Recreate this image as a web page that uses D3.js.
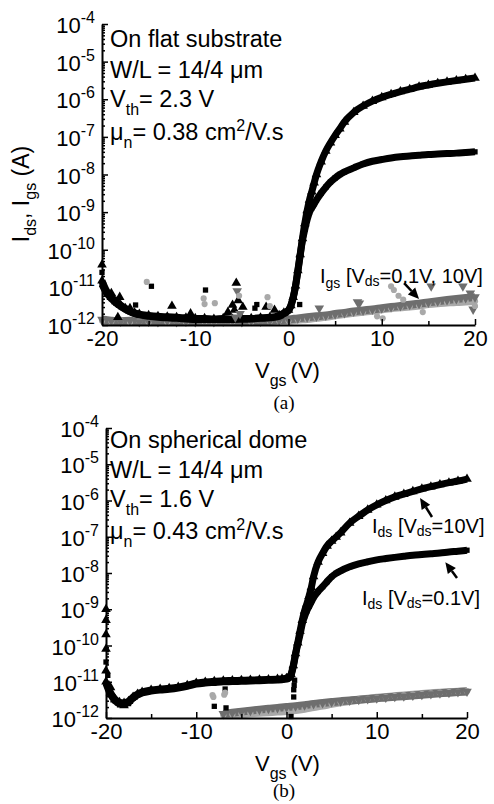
<!DOCTYPE html>
<html><head><meta charset="utf-8">
<script src="https://cdn.jsdelivr.net/npm/d3@7"></script>
<style>
body{margin:0;background:#fff}
svg{display:block}
text{white-space:pre}
</style>
</head><body>
<svg id="c" width="494" height="804"></svg>
<script>
// ---------------- DATA ----------------
const xTicks = [-20, -10, 0, 10, 20];
const xMinor = [-15, -5, 5, 15];
const yTickExps = [-12, -11, -10, -9, -8, -7, -6, -5, -4];

// gate voltage grid for drain-current sweeps (V)
const vgrid = [-20,-19.5,-19,-18.5,-18,-17.5,-17,-16.5,-16,
  -15,-14,-13,-12,-11,-10,-9,-8,-7,-6,-5,-4,-3,-2,-1,
  -0.5,0,0.25,0.5,0.75,1,1.25,1.5,1.75,2,2.25,2.5,2.75,3,
  3.5,4,4.5,5,5.5,6,7,8,9,10,11,12,13,14,15,16,17,18,19,20];

// (a) flat substrate, Ids at Vds = 10 V (A)
const a_ids10 = [1.5e-11,8e-12,5.5e-12,4.2e-12,3.4e-12,2.8e-12,2.4e-12,2.1e-12,1.95e-12,
  1.8e-12,1.7e-12,1.65e-12,1.6e-12,1.55e-12,1.5e-12,1.5e-12,1.45e-12,1.5e-12,1.45e-12,1.5e-12,1.5e-12,1.55e-12,1.6e-12,1.8e-12,
  2.1e-12,2.5e-12,3.3e-12,5.5e-12,1.1e-11,2.8e-11,7.5e-11,2e-10,5e-10,1.1e-9,2.1e-9,3.5e-9,6e-9,1e-8,
  2.2e-8,4.2e-8,7e-8,1.1e-7,1.65e-7,2.5e-7,4.5e-7,6.6e-7,8.9e-7,1.12e-6,1.35e-6,1.6e-6,1.85e-6,2.15e-6,2.4e-6,2.65e-6,2.9e-6,3.15e-6,3.4e-6,3.65e-6];
// (a) flat substrate, Ids at Vds = 0.1 V (A)
const a_ids01 = [1.2e-11,7e-12,5e-12,3.8e-12,3.1e-12,2.6e-12,2.25e-12,2e-12,1.85e-12,
  1.7e-12,1.6e-12,1.55e-12,1.5e-12,1.45e-12,1.4e-12,1.4e-12,1.4e-12,1.4e-12,1.4e-12,1.42e-12,1.45e-12,1.5e-12,1.55e-12,1.7e-12,
  2e-12,2.4e-12,3.2e-12,5.2e-12,1.05e-11,2.6e-11,7e-11,1.8e-10,3.5e-10,6.3e-10,1e-9,1.3e-9,1.65e-9,2.1e-9,
  3.2e-9,4.6e-9,6.3e-9,8.1e-9,1e-8,1.17e-8,1.5e-8,1.9e-8,2.25e-8,2.5e-8,2.75e-8,2.95e-8,3.1e-8,3.25e-8,3.4e-8,3.5e-8,3.6e-8,3.7e-8,3.85e-8,4e-8];

// gate-current grid (a)
const a_igsV = [-20,-19,-18,-17,-16,-15,-14,-13,-12,-11,-10,-9,-8,-7,-6,-5,-4,-3,-2,-1,
  0,1,2,3,4,5,6,7,8,9,10,11,12,13,14,15,16,17,18,19,20];
const a_igs10 = [1.4e-12,1.3e-12,1.25e-12,1.3e-12,1.2e-12,1.25e-12,1.2e-12,1.3e-12,1.2e-12,1.25e-12,1.2e-12,1.3e-12,1.2e-12,1.25e-12,1.3e-12,1.2e-12,1.3e-12,1.25e-12,1.3e-12,1.35e-12,
  1.4e-12,1.5e-12,1.6e-12,1.7e-12,1.8e-12,1.95e-12,2.1e-12,2.3e-12,2.45e-12,2.6e-12,2.8e-12,3e-12,3.2e-12,3.45e-12,3.7e-12,4e-12,4.3e-12,4.6e-12,4.9e-12,5.2e-12,5.5e-12];
const a_igs01 = [1.3e-12,1.25e-12,1.3e-12,1.2e-12,1.25e-12,1.2e-12,1.3e-12,1.2e-12,1.25e-12,1.2e-12,1.3e-12,1.25e-12,1.2e-12,1.3e-12,1.25e-12,1.3e-12,1.2e-12,1.3e-12,1.25e-12,1.3e-12,
  1.3e-12,1.4e-12,1.45e-12,1.55e-12,1.65e-12,1.8e-12,1.95e-12,2.1e-12,2.25e-12,2.4e-12,2.6e-12,2.8e-12,2.95e-12,3.1e-12,3.3e-12,3.6e-12,3.8e-12,3.95e-12,4.1e-12,4.2e-12,4.3e-12];

// scattered points (a): [Vgs, I, marker]  t=Ids 10V, s=Ids 0.1V, c=Igs 0.1V, d=Igs 10V
const a_scatter = [[-20,4e-11,"t"],[-20,2.5e-11,"s"],[-19,7e-12,"t"],[-18.1,5.5e-12,"t"],[-18.3,1.6e-12,"t"],
  [-17,2.8e-12,"t"],[-16.4,3.4e-12,"s"],[-15.2,1.4e-11,"c"],[-14.7,1.07e-11,"s"],[-12.5,3.2e-12,"t"],
  [-10.5,2e-12,"t"],[-8.9,8.5e-12,"s"],[-9.1,5.1e-12,"c"],[-9.0,3.6e-12,"c"],[-7.9,3.8e-12,"c"],
  [-6.5,2.2e-12,"t"],[-6.0,3.4e-12,"t"],[-5.8,2.5e-12,"t"],[-5.7,1.6e-12,"d"],[-5.6,1.3e-11,"t"],
  [-5.5,8e-12,"d"],[-5.4,4.5e-12,"t"],[-5.3,6e-12,"c"],[-5.2,2e-12,"d"],[-4.9,3e-12,"t"],
  [-3.6,2.8e-12,"s"],[-3.4,3.5e-12,"s"],[-2.4,3e-12,"t"],[-2.25,5.5e-12,"c"],[-2.0,3.2e-12,"c"],
  [-1.5,2.5e-12,"t"],[1.2,3.5e-12,"s"],[3.3,2.8e-12,"d"],[7.4,4.1e-12,"d"],[7.6,3.8e-12,"d"],
  [9.5,1.7e-12,"c"],[10.1,1.5e-12,"c"],[11.0,1.07e-11,"c"],[11.3,8.5e-12,"c"],[11.8,6e-12,"c"],
  [12.3,4.7e-12,"c"],[14.4,2.2e-12,"c"],[15.3,1.07e-11,"d"],[18.7,1.07e-11,"d"],[19.5,7e-12,"d"],
  [19.8,2.6e-12,"d"],[20,3.2e-12,"c"]];

// (b) spherical dome, Ids at Vds = 10 V (A)
const b_ids10 = [1e-11,5e-12,3.3e-12,2.7e-12,2.6e-12,2.9e-12,3.8e-12,4.6e-12,5.2e-12,
  5.9e-12,6.3e-12,6.6e-12,7.1e-12,8e-12,9.2e-12,9.8e-12,1.03e-11,1.07e-11,1.08e-11,1.1e-11,1.12e-11,1.13e-11,1.15e-11,1.18e-11,
  1.2e-11,1.25e-11,1.35e-11,1.6e-11,2.8e-11,6e-11,1.2e-10,2.5e-10,5e-10,9e-10,1.4e-9,2.3e-9,4e-9,8e-9,
  2e-8,3.5e-8,5.6e-8,7.6e-8,9.8e-8,1.3e-7,2.4e-7,3.7e-7,5.5e-7,7.6e-7,1e-6,1.26e-6,1.5e-6,1.78e-6,2.1e-6,2.4e-6,2.75e-6,3.1e-6,3.45e-6,3.9e-6];
// (b) spherical dome, Ids at Vds = 0.1 V (A)
const b_ids01 = [9e-12,4.5e-12,3e-12,2.5e-12,2.4e-12,2.7e-12,3.5e-12,4.3e-12,4.9e-12,
  5.5e-12,5.9e-12,6.2e-12,6.7e-12,7.5e-12,8.6e-12,9.2e-12,9.6e-12,1e-11,1.01e-11,1.03e-11,1.05e-11,1.07e-11,1.1e-11,1.12e-11,
  1.14e-11,1.18e-11,1.25e-11,1.5e-11,2.6e-11,5.5e-11,1.1e-10,2e-10,4e-10,6.3e-10,9.1e-10,1.2e-9,1.6e-9,2.1e-9,
  3.1e-9,4.2e-9,5.8e-9,7.9e-9,9.8e-9,1.15e-8,1.48e-8,1.78e-8,2.04e-8,2.3e-8,2.5e-8,2.7e-8,2.9e-8,3.1e-8,3.25e-8,3.4e-8,3.55e-8,3.8e-8,4e-8,4.25e-8];

// gate-current grid (b)
const b_igsV = [-7,-6,-5,-4,-3,-2,-1,0,1,2,3,4,5,6,7,8,9,10,11,12,13,14,15,16,17,18,19,20];
const b_igs10 = [1.3e-12,1.4e-12,1.5e-12,1.6e-12,1.7e-12,1.8e-12,1.9e-12,2e-12,2.1e-12,2.25e-12,2.45e-12,2.6e-12,2.75e-12,2.9e-12,
  3.05e-12,3.2e-12,3.35e-12,3.5e-12,3.7e-12,3.85e-12,4e-12,4.2e-12,4.4e-12,4.6e-12,4.8e-12,5e-12,5.2e-12,5.4e-12];
const b_igs01 = [1.2e-12,1.25e-12,1.3e-12,1.35e-12,1.4e-12,1.45e-12,1.5e-12,1.55e-12,1.65e-12,1.8e-12,2e-12,2.2e-12,2.45e-12,2.7e-12,
  2.95e-12,3.2e-12,3.4e-12,3.6e-12,3.8e-12,4e-12,4.2e-12,4.4e-12,4.6e-12,4.8e-12,5e-12,5.2e-12,5.3e-12,5.5e-12];

const b_scatter = [[-20,1e-9,"t"],[-20,5e-10,"t"],[-20,2e-10,"t"],[-20,8e-11,"t"],[-20,3.5e-11,"s"],[-20,2e-11,"t"],
  [-19.8,1.5e-11,"s"],[-19.5,7e-12,"t"],[-19,3.2e-12,"t"],[-18.5,2.3e-12,"s"],[-18,2.2e-12,"t"],[-17.5,2.5e-12,"s"],
  [-8.2,4.3e-12,"c"],[-8.1,3.8e-12,"c"],[-8.0,2.1e-12,"s"],[-6.8,5e-12,"c"],[-6.9,4.4e-12,"c"],[-6.8,6.3e-12,"s"],
  [-6.7,1.9e-12,"s"],[0.9,1.1e-11,"s"],[0.85,8e-12,"s"],[0.8,6e-12,"s"],[0.8,3.8e-12,"s"],[0.5,1.1e-12,"s"]];

// ---------------- DRAWING ----------------
const FONT = '"Liberation Sans", Arial, Helvetica, sans-serif';
const SERIF = '"Liberation Serif", "Times New Roman", serif';
const svg = d3.select("#c");
const DARK = "#6e6e6e", LIGHT = "#a9a9a9";

function rich(g, x, y, parts, fs, opts) {
  opts = opts || {};
  const t = g.append("text").attr("x", x).attr("y", y)
    .attr("font-size", fs).attr("font-family", opts.family || FONT).attr("fill", "#000");
  if (opts.anchor) t.attr("text-anchor", opts.anchor);
  if (opts.transform) t.attr("transform", opts.transform);
  let shift = 0;
  parts.forEach(p => {
    let target = 0, size = fs;
    if (p.sub !== undefined) { target = p.sub; size = p.size || Math.round(fs * 0.68); }
    if (p.sup !== undefined) { target = -p.sup; size = p.size || Math.round(fs * 0.68); }
    const ts = t.append("tspan").text(p.t).attr("font-size", size);
    const dy = target - shift;
    if (dy) ts.attr("dy", dy);
    if (p.dx) ts.attr("dx", p.dx);
    shift = target;
  });
  return t;
}

function zip(v, i) { return v.map((d, k) => [d, i[k]]); }

const sym = {
  t: d3.symbol(d3.symbolTriangle, 40)(),
  s: d3.symbol(d3.symbolSquare, 28)(),
  c: d3.symbol(d3.symbolCircle, 30)(),
  d: d3.symbol(d3.symbolTriangle, 40)()
};
const symColor = { t: "#000", s: "#000", c: LIGHT, d: DARK };

function markers(g, x, y, pts, kind) {
  g.append("g").selectAll("path").data(pts).join("path")
    .attr("d", sym[kind])
    .attr("fill", symColor[kind])
    .attr("transform", d => `translate(${x(d[0])},${y(d[1])})` + (kind === "d" ? " rotate(180)" : ""));
}

function panel(cfg) {
  const x = d3.scaleLinear().domain([-20, 20]).range(cfg.xr);
  const y = d3.scaleLog().domain([1e-12, 1e-4]).range(cfg.yr);
  const g = svg.append("g");
  const line = d3.line().x(d => x(d[0])).y(d => y(d[1])).curve(d3.curveMonotoneX);

  // gate current bands
  const ig01 = zip(cfg.igsV, cfg.igs01), ig10 = zip(cfg.igsV, cfg.igs10);
  g.append("path").datum(ig01).attr("d", line).attr("fill", "none").attr("stroke", LIGHT).attr("stroke-width", 8);
  g.append("path").datum(ig10).attr("d", line).attr("fill", "none").attr("stroke", DARK).attr("stroke-width", 8);
  markers(g, x, y, ig01, "c");
  markers(g, x, y, ig10, "d");

  // drain current curves
  const d01 = zip(vgrid, cfg.ids01), d10 = zip(vgrid, cfg.ids10);
  g.append("path").datum(d01).attr("d", line).attr("fill", "none").attr("stroke", "#000").attr("stroke-width", 7).attr("stroke-linejoin", "round");
  g.append("path").datum(d10).attr("d", line).attr("fill", "none").attr("stroke", "#000").attr("stroke-width", 7).attr("stroke-linejoin", "round");
  markers(g, x, y, d01, "s");
  markers(g, x, y, d10, "t");

  // scattered points
  ["t", "s", "d", "c"].forEach(k => markers(g, x, y, cfg.scatter.filter(p => p[2] === k), k));

  // axes
  const y0 = cfg.yr[0], x0 = cfg.xr[0];
  const xa = g.append("g").attr("transform", `translate(0,${y0})`)
    .call(d3.axisBottom(x).tickValues(xTicks).tickSize(-6).tickSizeOuter(0).tickPadding(5).tickFormat(d => String(d)));
  g.append("g").attr("transform", `translate(0,${y0})`)
    .call(d3.axisBottom(x).tickValues(xMinor).tickSize(-4).tickSizeOuter(0).tickFormat(""))
    .select(".domain").remove();
  xa.selectAll("text").attr("font-size", 22).attr("font-family", FONT).attr("fill", "#000");

  const minors = [];
  for (let e = -12; e < -4; e++) for (let k = 2; k <= 9; k++) minors.push(k * Math.pow(10, e));
  g.append("g").attr("transform", `translate(${x0},0)`)
    .call(d3.axisLeft(y).tickValues(yTickExps.map(e => Math.pow(10, e))).tickSize(-6).tickSizeOuter(0).tickFormat(""));
  g.append("g").attr("transform", `translate(${x0},0)`)
    .call(d3.axisLeft(y).tickValues(minors).tickSize(-3).tickSizeOuter(0).tickFormat(""))
    .select(".domain").remove();
  g.selectAll(".domain").attr("stroke-width", 2).attr("stroke", "#000");
  g.selectAll(".tick line").attr("stroke-width", 1.5).attr("stroke", "#000");

  yTickExps.forEach(e => {
    rich(g, x0 - 7, y(Math.pow(10, e)) + 9,
      [{ t: "10" }, { t: String(e), sup: 10, size: 16 }], 22, { anchor: "end" });
  });

  // axis title
  rich(g, 255, y0 + 53, [{ t: "V" }, { t: "gs", sub: 8, size: 16 }, { t: "(V)", dx: 4 }], 22);
  g.append("text").attr("x", 284).attr("y", cfg.capY).attr("text-anchor", "middle")
    .attr("font-family", SERIF).attr("font-size", 19).text(cfg.caption);

  // info text
  const L = cfg.lines;
  rich(g, 110, L[0], [{ t: cfg.title }], 23.5);
  rich(g, 110, L[1], [{ t: "W/L = 14/4 \u03bcm" }], 23.5);
  rich(g, 110, L[2], [{ t: "V" }, { t: "th", sub: 8, size: 16 }, { t: "= " + cfg.vth + " V" }], 23.5);
  rich(g, 110, L[3], [{ t: "\u03bc" }, { t: "n", sub: 8, size: 16 }, { t: "= " + cfg.mu + " cm" }, { t: "2", sup: 9, size: 16 }, { t: "/V.s" }], 23.5);

  return { g, x, y };
}

function arrow(g, x1, y1, x2, y2) {
  const ang = Math.atan2(y2 - y1, x2 - x1);
  const L = 11, W = 5;
  const bx = x2 - L * Math.cos(ang), by = y2 - L * Math.sin(ang);
  g.append("line").attr("x1", x1).attr("y1", y1).attr("x2", bx).attr("y2", by)
    .attr("stroke", "#000").attr("stroke-width", 2.5);
  const px = -Math.sin(ang) * W, py = Math.cos(ang) * W;
  g.append("path").attr("d", `M${x2},${y2}L${bx + px},${by + py}L${bx - px},${by - py}Z`).attr("fill", "#000");
}

// panel (a)
const A = panel({
  xr: [102, 475], yr: [325, 24],
  ids10: a_ids10, ids01: a_ids01, igsV: a_igsV, igs10: a_igs10, igs01: a_igs01, scatter: a_scatter,
  title: "On flat substrate", vth: "2.3", mu: "0.38", lines: [47, 78, 107, 140], caption: "(a)", capY: 409
});
// y axis title (only on panel a)
rich(A.g, 0, 0, [{ t: "I" }, { t: "ds", sub: 7, size: 16 }, { t: ", I" }, { t: "gs", sub: 7, size: 16 }, { t: " (A)" }], 23,
  { anchor: "middle", transform: "translate(29,194) rotate(-90)" });
rich(A.g, 320, 283, [{ t: "I" }, { t: "gs", sub: 5, size: 14 }, { t: " [V" }, { t: "ds", sub: 3, size: 14 }, { t: "=0.1V, 10V]" }], 20);
arrow(A.g, A.x(12.4), A.y(1.3e-11), A.x(14.0), A.y(4.9e-12));

// panel (b)
const B = panel({
  xr: [106, 467], yr: [718, 428],
  ids10: b_ids10, ids01: b_ids01, igsV: b_igsV, igs10: b_igs10, igs01: b_igs01, scatter: b_scatter,
  title: "On spherical dome", vth: "1.6", mu: "0.43", lines: [448, 478, 507, 539], caption: "(b)", capY: 797
});
rich(B.g, 372, 533, [{ t: "I" }, { t: "ds", sub: 4, size: 14 }, { t: " [V" }, { t: "ds", sub: 3, size: 14 }, { t: "=10V]" }], 20);
rich(B.g, 362, 605, [{ t: "I" }, { t: "ds", sub: 4, size: 14 }, { t: " [V" }, { t: "ds", sub: 3, size: 14 }, { t: "=0.1V]" }], 20);
arrow(B.g, 432, 517, B.x(14.8), B.y(Math.pow(10, -5.93)));
arrow(B.g, 457, 578, B.x(17.6), B.y(Math.pow(10, -7.70)));
</script>
</body></html>
